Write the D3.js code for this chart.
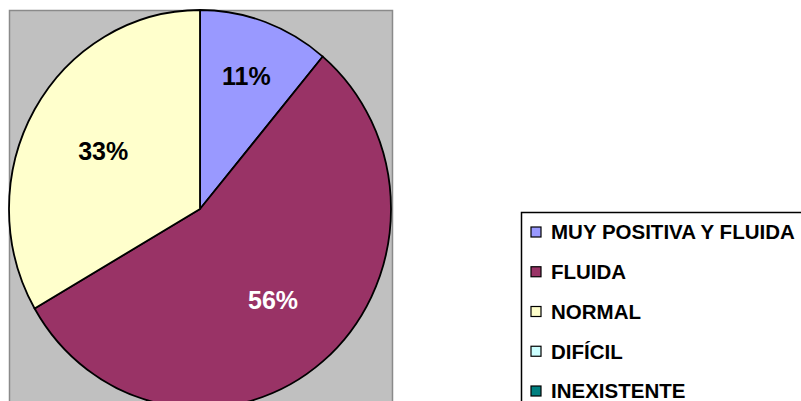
<!DOCTYPE html>
<html>
<head>
<meta charset="utf-8">
<script src="https://cdn.jsdelivr.net/npm/d3@7"></script>
<style>
  html, body { margin: 0; padding: 0; background: #ffffff; }
  svg { display: block; }
</style>
</head>
<body>
<svg id="chart" width="801" height="401"></svg>
<script>
// ---- data ----
const categories = ["MUY POSITIVA Y FLUIDA", "FLUIDA", "NORMAL", "DIFÍCIL", "INEXISTENTE"];
const values = [1, 5, 3, 0, 0];
const percentLabels = ["11%", "56%", "33%", "", ""];
const colors = ["#9999FF", "#993366", "#FFFFCC", "#CCFFFF", "#008080"];
const labelColors = ["#000000", "#ffffff", "#000000", "#000000", "#000000"];
const labelFrac = [0.71, 0.595, 0.585, 0.6, 0.6];

const svg = d3.select("#chart");
const font = "'Liberation Sans', Arial, Helvetica, sans-serif";

// plot area background
const cx = 200, cy = 209, rx = 191, ry = 199;
svg.append("rect")
  .attr("x", 9.5).attr("y", 10.5)
  .attr("width", 383).attr("height", 420)
  .attr("fill", "#C0C0C0")
  .attr("stroke", "#8a8a8a").attr("stroke-width", 1.5);

const pie = d3.pie().sort(null).value(d => d)(values);
const arc = d3.arc().innerRadius(0).outerRadius(rx);

const g = svg.append("g")
  .attr("transform", `translate(${cx},${cy}) scale(1,${ry / rx})`);

g.selectAll("path")
  .data(pie.filter(d => d.value > 0))
  .join("path")
  .attr("d", arc)
  .attr("fill", d => colors[d.index])
  .attr("stroke", "#000")
  .attr("stroke-width", 1.8)
  .attr("stroke-linejoin", "round")
  .attr("vector-effect", "non-scaling-stroke");

// percentage labels
svg.selectAll("text.pct")
  .data(pie.filter(d => d.value > 0))
  .join("text")
  .attr("class", "pct")
  .attr("x", d => {
    const a = (d.startAngle + d.endAngle) / 2;
    return cx + Math.sin(a) * rx * labelFrac[d.index];
  })
  .attr("y", d => {
    const a = (d.startAngle + d.endAngle) / 2;
    return cy - Math.cos(a) * ry * labelFrac[d.index];
  })
  .attr("dy", "0.36em")
  .attr("text-anchor", "middle")
  .attr("font-family", font)
  .attr("font-weight", "bold")
  .attr("font-size", 25)
  .attr("fill", d => labelColors[d.index])
  .text(d => percentLabels[d.index]);

// legend
const legend = svg.append("g");
legend.append("rect")
  .attr("x", 521.5).attr("y", 212.5)
  .attr("width", 300).attr("height", 220)
  .attr("fill", "#fff")
  .attr("stroke", "#000").attr("stroke-width", 1.5);

const rowY = d3.scalePoint().domain(categories).range([232, 391]);

const items = legend.selectAll("g.item")
  .data(categories)
  .join("g")
  .attr("class", "item")
  .attr("transform", d => `translate(0,${rowY(d)})`);

items.append("rect")
  .attr("x", 531).attr("y", -5)
  .attr("width", 10).attr("height", 10)
  .attr("fill", (d, i) => colors[i])
  .attr("stroke", "#000").attr("stroke-width", 1.2);

items.append("text")
  .attr("x", 551)
  .attr("dy", "0.36em")
  .attr("font-family", font)
  .attr("font-weight", "bold")
  .attr("font-size", 20.5)
  .attr("fill", "#000")
  .text(d => d);
</script>
</body>
</html>
